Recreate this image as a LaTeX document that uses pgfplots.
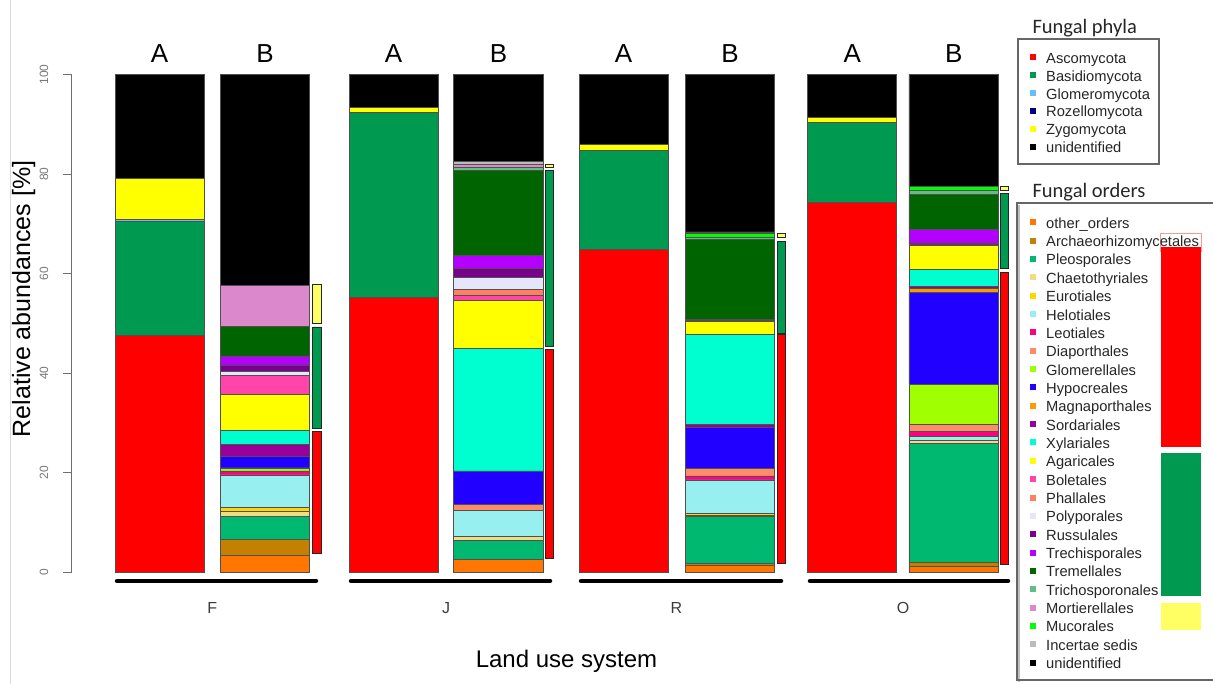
\documentclass[border=0pt]{standalone}
\usepackage{pgfplots}
\pgfplotsset{compat=1.18}
\usepackage{pgfplotstable}
\usepackage{fontspec}
\setmainfont{Liberation Sans}
\newfontfamily\titlefont{Carlito}

% phylum colours
\definecolor{cAsco}{RGB}{255,0,0}
\definecolor{cBasid}{RGB}{0,153,80}
\definecolor{cGlom}{RGB}{102,190,255}
\definecolor{cRozel}{RGB}{0,0,128}
\definecolor{cZygo}{RGB}{255,255,0}
\definecolor{cSideY}{RGB}{255,255,100}
% order colours
\definecolor{cOther}{RGB}{255,118,0}
\definecolor{cArch}{RGB}{196,128,0}
\definecolor{cPleo}{RGB}{0,184,112}
\definecolor{cChaet}{RGB}{240,220,130}
\definecolor{cEuro}{RGB}{255,215,0}
\definecolor{cHelo}{RGB}{151,239,239}
\definecolor{cLeot}{RGB}{255,0,128}
\definecolor{cDiap}{RGB}{255,140,105}
\definecolor{cGlomel}{RGB}{160,255,0}
\definecolor{cHypo}{RGB}{34,0,255}
\definecolor{cMagna}{RGB}{255,153,0}
\definecolor{cSord}{RGB}{153,0,153}
\definecolor{cXyl}{RGB}{0,255,208}
\definecolor{cAgar}{RGB}{255,255,0}
\definecolor{cBolet}{RGB}{255,68,170}
\definecolor{cPhall}{RGB}{255,128,96}
\definecolor{cPoly}{RGB}{230,230,250}
\definecolor{cRuss}{RGB}{120,0,140}
\definecolor{cTrech}{RGB}{180,0,255}
\definecolor{cTrem}{RGB}{0,100,0}
\definecolor{cTrich}{RGB}{100,190,130}
\definecolor{cMort}{RGB}{220,136,204}
\definecolor{cMuc}{RGB}{0,255,0}
\definecolor{cInc}{RGB}{187,187,187}
\definecolor{segline}{RGB}{80,80,80}
\definecolor{axgray}{RGB}{110,110,110}
\definecolor{tickgray}{RGB}{120,120,120}
\definecolor{txtgray}{RGB}{60,60,60}
\definecolor{pinkline}{RGB}{255,150,150}

% phylum composition of the A bars (per cent)
\pgfplotstableread{
x     asco basid glom rozel zygo unid
159.5 47.6 22.9  0.4  0     8.2  20.9
393.5 55.2 37.2  0    0     1.0  6.6
623.5 64.9 19.8  0    0     1.2  14.1
852.2 74.3 16.1  0    0     1.0  8.6
}\phyla

% order composition of the B bars (per cent)
\pgfplotstableread{
x     other arch pleo chaet euro helo leot diap glomel hypo magna sord xyl  agar bolet phall poly russ trech trem trich mort muc inc unid
265   3.5   3.2  4.6  0.9   0.9  6.5  0.8  0    0.6    2.3  0     2.4  2.8  7.3  3.7   0     0.8  1.4  1.8   5.9  0     8.2  0   0   42.4
498.5 2.6   0    3.8  0.8   0    5.2  0    1.2  0      6.8  0     0    24.6 9.7  1.0   1.2   2.3  1.9  2.5   17.1 0.7   0.6  0   0.5 17.5
730   1.5   0.3  9.5  0.2   0.4  6.7  0.8  1.5  0      8.3  0     0.5  18.1 2.6  0     0     0    0.2  0.3   16.0 0.4   0    0.8 0.3 31.6
953.7 1.2   0.8  23.9 0.7   0    0.8  0.9  1.5  8.0    18.4 0.9   0.4  3.4  4.9  0     0     0    0.4  2.7   7.1  0.7   0    0.8 0   22.5
}\orders

% phylum span bars beside the B bars: gap, Ascomycota, gap, Basidiomycota, gap, Zygomycota
\pgfplotstableread{
x      g0  asco g1  basid g2  zygo
317    3.8 24.5 0.6 20.4  0.8 7.7
549.5  2.9 41.9 0.5 35.5  0.5 0.6
781.5  1.9 45.9 0.3 18.4  0.7 0.9
1004.5 1.6 58.6 0.8 15.1  0.7 0.7
}\spans

\pgfplotsset{
  panel/.style={at={(0pt,0pt)},anchor=south west,scale only axis,
    width=1213pt,height=684pt,xmin=0,xmax=1213,ymin=-22.39,ymax=114.96,
    hide axis,clip=false},
  seg/.style={fill=#1,draw=segline,line width=0.6pt},
}

\begin{document}
\begin{tikzpicture}[x=1pt,y=1pt]
\path[use as bounding box] (0,0) rectangle (1213,684);
\fill[white] (0,0) rectangle (1213,684);
\draw[black!15,line width=0.8pt] (10,0) -- (10,684);

% A bars: phyla
\begin{axis}[panel,ybar stacked,bar width=89]
\addplot[seg=cAsco]  table[x=x,y=asco]{\phyla};
\addplot[seg=cBasid] table[x=x,y=basid]{\phyla};
\addplot[seg=cGlom]  table[x=x,y=glom]{\phyla};
\addplot[seg=cRozel] table[x=x,y=rozel]{\phyla};
\addplot[seg=cZygo]  table[x=x,y=zygo]{\phyla};
\addplot[seg=black]  table[x=x,y=unid]{\phyla};
\end{axis}

% B bars: orders
\begin{axis}[panel,ybar stacked,bar width=89.5]
\addplot[seg=cOther]  table[x=x,y=other]{\orders};
\addplot[seg=cArch]   table[x=x,y=arch]{\orders};
\addplot[seg=cPleo]   table[x=x,y=pleo]{\orders};
\addplot[seg=cChaet]  table[x=x,y=chaet]{\orders};
\addplot[seg=cEuro]   table[x=x,y=euro]{\orders};
\addplot[seg=cHelo]   table[x=x,y=helo]{\orders};
\addplot[seg=cLeot]   table[x=x,y=leot]{\orders};
\addplot[seg=cDiap]   table[x=x,y=diap]{\orders};
\addplot[seg=cGlomel] table[x=x,y=glomel]{\orders};
\addplot[seg=cHypo]   table[x=x,y=hypo]{\orders};
\addplot[seg=cMagna]  table[x=x,y=magna]{\orders};
\addplot[seg=cSord]   table[x=x,y=sord]{\orders};
\addplot[seg=cXyl]    table[x=x,y=xyl]{\orders};
\addplot[seg=cAgar]   table[x=x,y=agar]{\orders};
\addplot[seg=cBolet]  table[x=x,y=bolet]{\orders};
\addplot[seg=cPhall]  table[x=x,y=phall]{\orders};
\addplot[seg=cPoly]   table[x=x,y=poly]{\orders};
\addplot[seg=cRuss]   table[x=x,y=russ]{\orders};
\addplot[seg=cTrech]  table[x=x,y=trech]{\orders};
\addplot[seg=cTrem]   table[x=x,y=trem]{\orders};
\addplot[seg=cTrich]  table[x=x,y=trich]{\orders};
\addplot[seg=cMort]   table[x=x,y=mort]{\orders};
\addplot[seg=cMuc]    table[x=x,y=muc]{\orders};
\addplot[seg=cInc]    table[x=x,y=inc]{\orders};
\addplot[seg=black]   table[x=x,y=unid]{\orders};
\end{axis}

% phylum span bars
\begin{axis}[panel,ybar stacked,bar width=8.5]
\addplot[fill=none,draw=none] table[x=x,y=g0]{\spans};
\addplot[fill=cAsco,draw=black!85,line width=0.8pt] table[x=x,y=asco]{\spans};
\addplot[fill=none,draw=none] table[x=x,y=g1]{\spans};
\addplot[fill=cBasid,draw=black!85,line width=0.8pt] table[x=x,y=basid]{\spans};
\addplot[fill=none,draw=none] table[x=x,y=g2]{\spans};
\addplot[fill=cSideY,draw=black!85,line width=0.8pt] table[x=x,y=zygo]{\spans};
\end{axis}

% value axis
\begin{axis}[at={(71.5pt,111.5pt)},anchor=south west,scale only axis,
  width=10pt,height=498pt,xmin=0,xmax=1,ymin=0,ymax=100,
  axis x line=none,axis y line*=left,
  ytick={0,20,40,60,80,100},tick align=outside,major tick length=8pt,
  y axis line style={draw=axgray,line width=1.1pt},
  ytick style={draw=axgray,line width=1.1pt},
  yticklabel style={rotate=90,anchor=south,inner sep=0pt,yshift=15pt,
    font=\fontsize{12}{14}\selectfont,text=tickgray},
  /pgf/number format/assume math mode=true]
\addplot[draw=none] coordinates {(0,0)};
\end{axis}

% group underlines and labels
\foreach \a/\b in {117/316, 351/550, 581/781, 810/1008}
  \draw[line width=4.5pt,line cap=round] (\a,103) -- (\b,103);
\foreach \xx/\lab in {212.3/F, 446/J, 676.5/R, 903/O}
  \node[anchor=base,text=txtgray,font=\fontsize{16}{18}\selectfont] at (\xx,70.7) {\lab};
\foreach \xx in {159.5,393.5,623.5,852.2}
  \node[anchor=base,font=\fontsize{26}{30}\selectfont] at (\xx,621.5) {A};
\foreach \xx in {265,498.5,730,953.7}
  \node[anchor=base,font=\fontsize{26}{30}\selectfont] at (\xx,621.5) {B};

% axis titles
\node[anchor=base,font=\fontsize{24}{28}\selectfont] at (566.5,16) {Land use system};
\node[anchor=base,rotate=90,font=\fontsize{25}{29}\selectfont] at (30,385) {Relative abundances [\%]};

% legend: phyla
\node[anchor=base west,font=\titlefont\fontsize{20.5}{24}\selectfont,text=black!85] at (1029,650.7) {Fungal phyla};
\draw[black!60,line width=1.1pt] (1018,520) rectangle (1159,645);
\foreach \name/\col [count=\i from 0] in {Ascomycota/cAsco,Basidiomycota/cBasid,Glomeromycota/cGlom,Rozellomycota/cRozel,Zygomycota/cZygo,unidentified/black}{
  \pgfmathsetmacro{\yc}{626.7-17.9*\i}
  \fill[\col] (1029.5,\yc-3) rectangle (1035.5,\yc+3);
  \node[anchor=base west,inner sep=0pt,text=black!85,font=\fontsize{14.7}{17}\selectfont] at (1046,\yc-6) {\name};
}

% legend: orders
\node[anchor=base west,font=\titlefont\fontsize{20.5}{24}\selectfont,text=black!85] at (1029,486) {Fungal orders};
\draw[black!25,line width=2pt] (1019,2) -- (1019,479);
\draw[black!60,line width=1.1pt] (1017,4) rectangle (1216,481);
\draw[pinkline,line width=0.8pt] (1160.5,433) rectangle (1201,451);
\fill[cAsco] (1160.5,237) rectangle (1201,437);
\fill[cBasid] (1160.5,88) rectangle (1201,231);
\fill[cSideY] (1160.5,54) rectangle (1201,81);
\foreach \name/\col [count=\i from 0] in {other\_orders/cOther,Archaeorhizomycetales/cArch,Pleosporales/cPleo,Chaetothyriales/cChaet,Eurotiales/cEuro,Helotiales/cHelo,Leotiales/cLeot,Diaporthales/cDiap,Glomerellales/cGlomel,Hypocreales/cHypo,Magnaporthales/cMagna,Sordariales/cSord,Xylariales/cXyl,Agaricales/cAgar,Boletales/cBolet,Phallales/cPhall,Polyporales/cPoly,Russulales/cRuss,Trechisporales/cTrech,Tremellales/cTrem,Trichosporonales/cTrich,Mortierellales/cMort,Mucorales/cMuc,Incertae sedis/cInc,unidentified/black}{
  \pgfmathsetmacro{\yc}{461.7-18.35*\i}
  \fill[\col] (1029.5,\yc-3) rectangle (1035.5,\yc+3);
  \node[anchor=base west,inner sep=0pt,text=black!85,font=\fontsize{14.7}{17}\selectfont] at (1046,\yc-6) {\name};
}
\end{tikzpicture}
\end{document}
